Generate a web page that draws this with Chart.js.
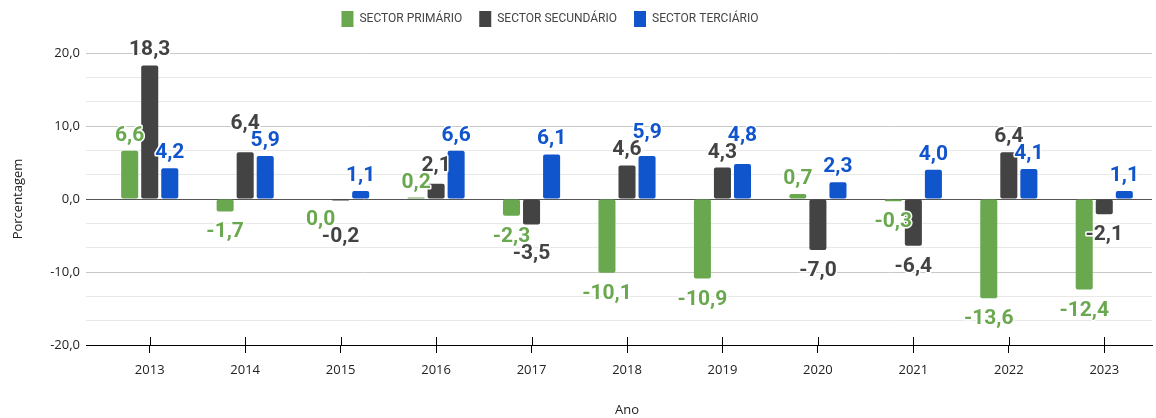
<!DOCTYPE html>
<html>
<head>
<meta charset="utf-8">
<script src="https://cdn.jsdelivr.net/npm/chart.js@4.4.1/dist/chart.umd.min.js"></script>
<style>
html,body{margin:0;padding:0;background:#fff;}
#wrap{width:1156px;height:418px;}
</style>
</head>
<body>
<div id="wrap"><canvas id="c" width="1156" height="418"></canvas></div>
<script>
// ---- data ----
const categories = ['2013','2014','2015','2016','2017','2018','2019','2020','2021','2022','2023'];
const sectorPrimario   = [6.6, -1.7, 0.0, 0.2, -2.3, -10.1, -10.9, 0.7, -0.3, -13.6, -12.4];
const sectorSecundario = [18.3, 6.4, -0.2, 2.1, -3.5, 4.6, 4.3, -7.0, -6.4, 6.4, -2.1];
const sectorTerciario  = [4.2, 5.9, 1.1, 6.6, 6.1, 5.9, 4.8, 2.3, 4.0, 4.1, 1.1];
const seriesNames = ['SECTOR PRIMÁRIO', 'SECTOR SECUNDÁRIO', 'SECTOR TERCIÁRIO'];
const yMajorTicks = [-20, -10, 0, 10, 20];
const yAxisTitle = 'Porcentagem';
const xAxisTitle = 'Ano';

// ---- styles ----
const seriesColors = ['#6aa84f', '#434343', '#1155cc'];
const fmt = v => v.toFixed(1).replace('.', ',');
const isMajor = v => yMajorTicks.some(m => Math.abs(m - v) < 1e-6);

const valueLabels = {
  id: 'valueLabels',
  afterDatasetsDraw(chart) {
    const ctx = chart.ctx;
    ctx.save();
    ctx.font = 'bold 21px Roboto';
    ctx.textAlign = 'center';
    ctx.textBaseline = 'alphabetic';
    const capH = 15, gapPos = 10, gapNeg = 11, margin = 2;
    const nCat = chart.data.labels.length;
    for (let i = 0; i < nCat; i++) {
      const items = [];
      chart.data.datasets.forEach((ds, di) => {
        const el = chart.getDatasetMeta(di).data[i];
        if (!el) return;
        const v = ds.data[i];
        const text = fmt(v);
        const w = ctx.measureText(text).width;
        const up = v > 0;
        const base = up ? el.y - gapPos : el.y + gapNeg + capH;
        items.push({text, w, x: el.x, up, base, color: ds.backgroundColor, mag: Math.abs(v)});
      });
      items.sort((a, b) => a.mag - b.mag);
      const placed = [];
      for (const it of items) {
        let moved = true, guard = 0;
        while (moved && guard++ < 20) {
          moved = false;
          for (const p of placed) {
            const l1 = it.x - it.w / 2, r1 = it.x + it.w / 2;
            const l2 = p.x - p.w / 2, r2 = p.x + p.w / 2;
            const t1 = it.base - capH, b1 = it.base, t2 = p.base - capH, b2 = p.base;
            if (l1 < r2 && l2 < r1 && t1 < b2 + margin && t2 < b1 + margin) {
              if (it.up) it.base = t2 - margin; else it.base = b2 + margin + capH;
              moved = true;
            }
          }
        }
        placed.push(it);
      }
      for (const it of placed) {
        ctx.lineWidth = 3;
        ctx.lineJoin = 'round';
        ctx.strokeStyle = '#ffffff';
        ctx.strokeText(it.text, it.x, it.base);
        ctx.fillStyle = it.color;
        ctx.fillText(it.text, it.x, it.base);
      }
    }
    ctx.restore();
  }
};

const axisTicks = {
  id: 'axisTicks',
  afterDraw(chart) {
    const xs = chart.scales.x;
    const ctx = chart.ctx;
    const b = chart.chartArea.bottom;
    ctx.save();
    ctx.strokeStyle = '#000';
    ctx.lineWidth = 1;
    xs.ticks.forEach((t, i) => {
      const x = Math.round(xs.getPixelForTick(i)) + 0.5;
      ctx.beginPath();
      ctx.moveTo(x, b - 8);
      ctx.lineTo(x, b);
      ctx.stroke();
    });
    ctx.restore();
  }
};

// shift the legend block slightly left, as in the reference
const legendShift = {
  id: 'legendShift',
  afterLayout(chart) {
    if (chart.legend) { chart.legend.left -= 26; chart.legend.right -= 26; }
  }
};

const datasets = [sectorPrimario, sectorSecundario, sectorTerciario].map((d, i) => ({
  label: seriesNames[i],
  data: d,
  backgroundColor: seriesColors[i],
  borderWidth: 0,
  borderRadius: 2,
  borderSkipped: false,
  categoryPercentage: 0.63,
  barPercentage: 0.85
}));

new Chart(document.getElementById('c'), {
  type: 'bar',
  data: { labels: categories, datasets },
  plugins: [valueLabels, axisTicks, legendShift],
  options: {
    responsive: false,
    animation: false,
    devicePixelRatio: 1,
    layout: { padding: { top: -6, left: 0, right: 4, bottom: 0 } },
    plugins: {
      tooltip: { enabled: false },
      title: { display: true, text: ' ', weight: 500, padding: 0, font: { size: 16, lineHeight: 1 } },
      legend: {
        position: 'top',
        labels: {
          boxWidth: 12, boxHeight: 16, padding: 17,
          color: '#444',
          font: { family: 'Roboto', size: 12 }
        }
      }
    },
    scales: {
      x: {
        offset: true,
        afterFit: s => { s.height = 73; },
        grid: { offset: false, drawOnChartArea: false, drawTicks: true, tickLength: 8, color: '#000' },
        border: { display: true, color: '#000' },
        ticks: { padding: 9, color: '#222', font: { family: 'Open Sans', size: 13 } },
        title: { display: true, text: xAxisTitle, color: '#222', font: { family: 'Open Sans', size: 13 }, padding: { top: 0, bottom: 0 } }
      },
      y: {
        min: -20, max: 20,
        afterFit: s => { s.width = 102; },
        afterBuildTicks: s => {
          const t = [];
          for (let k = 0; k < yMajorTicks.length; k++) {
            t.push({ value: yMajorTicks[k] });
            if (k < yMajorTicks.length - 1) {
              const a = yMajorTicks[k], b = yMajorTicks[k + 1];
              t.push({ value: a + (b - a) / 3 });
              t.push({ value: a + 2 * (b - a) / 3 });
            }
          }
          s.ticks = t;
        },
        border: { display: false },
        grid: {
          tickLength: 16,
          color: c => {
            const v = c.tick ? c.tick.value : 1;
            if (Math.abs(v + 20) < 1e-6) return '#000';
            if (Math.abs(v) < 1e-6) return '#555';
            return isMajor(v) ? '#c8c8c8' : '#e8e8e8';
          }
        },
        ticks: {
          autoSkip: false,
          padding: 6,
          color: '#222',
          font: { family: 'Open Sans', size: 13 },
          callback: v => isMajor(v) ? fmt(v) : ''
        },
        title: { display: true, text: yAxisTitle, color: '#222', font: { family: 'Open Sans', size: 13 }, padding: { top: 10, bottom: 0 } }
      }
    }
  }
});
</script>
</body>
</html>
